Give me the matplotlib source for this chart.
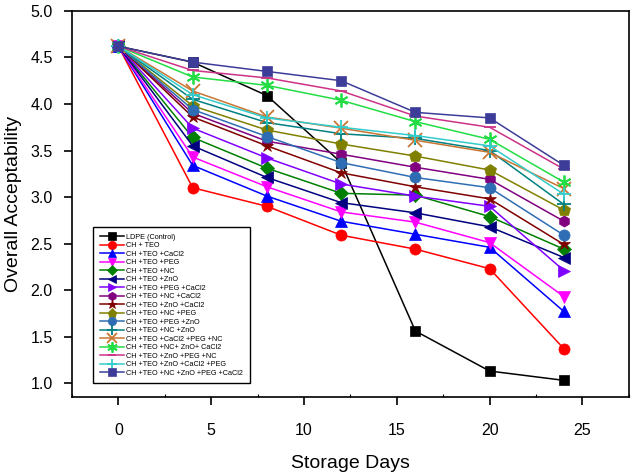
"""
Overall acceptability vs storage days for coated samples
"""
# ---   IMPORTS   --- #
# ------------------- #
import numpy as np
import matplotlib
matplotlib.use('Agg')
import matplotlib.pyplot as plt
from matplotlib.ticker import MultipleLocator, FormatStrFormatter


# ---   DATA   --- #
# ---------------- #
DAYS = [0, 4, 8, 12, 16, 20, 24]

LABELS = [
    'LDPE (Control)',
    'CH + TEO',
    'CH +TEO +CaCl2',
    'CH +TEO +PEG',
    'CH +TEO +NC',
    'CH +TEO +ZnO',
    'CH +TEO +PEG +CaCl2',
    'CH +TEO +NC +CaCl2',
    'CH +TEO +ZnO +CaCl2',
    'CH +TEO +NC +PEG',
    'CH +TEO +PEG +ZnO',
    'CH +TEO +NC +ZnO',
    'CH +TEO +CaCl2 +PEG +NC',
    'CH +TEO +NC+ ZnO+ CaCl2',
    'CH +TEO +ZnO +PEG +NC',
    'CH +TEO +ZnO +CaCl2 +PEG',
    'CH +TEO +NC +ZnO +PEG +CaCl2',
]

LDPE = [4.62, 4.45, 4.09, 3.37, 1.56, 1.13, 1.03]
TEO = [4.62, 3.10, 2.90, 2.59, 2.44, 2.23, 1.37]
TEO_CACL2 = [4.62, 3.34, 3.01, 2.74, 2.60, 2.46, 1.77]
TEO_PEG = [4.62, 3.43, 3.11, 2.84, 2.73, 2.51, 1.93]
TEO_NC = [4.62, 3.64, 3.31, 3.04, 3.02, 2.79, 2.44]
TEO_ZNO = [4.62, 3.55, 3.21, 2.94, 2.83, 2.68, 2.35]
TEO_PEG_CACL2 = [4.62, 3.74, 3.42, 3.14, 3.01, 2.90, 2.21]
TEO_NC_CACL2 = [4.62, 3.90, 3.60, 3.46, 3.32, 3.19, 2.74]
TEO_ZNO_CACL2 = [4.62, 3.86, 3.55, 3.26, 3.11, 2.98, 2.49]
TEO_NC_PEG = [4.62, 3.98, 3.72, 3.57, 3.44, 3.29, 2.86]
TEO_PEG_ZNO = [4.62, 3.94, 3.65, 3.37, 3.21, 3.10, 2.59]
TEO_NC_ZNO = [4.62, 4.05, 3.80, 3.68, 3.63, 3.50, 2.92]
TEO_CACL2_PEG_NC = [4.62, 4.14, 3.86, 3.74, 3.61, 3.48, 3.09]
TEO_NC_ZNO_CACL2 = [4.62, 4.29, 4.20, 4.04, 3.81, 3.62, 3.16]
TEO_ZNO_PEG_NC = [4.62, 4.36, 4.28, 4.14, 3.87, 3.75, 3.30]
TEO_ZNO_CACL2_PEG = [4.62, 4.10, 3.85, 3.75, 3.66, 3.55, 3.03]
TEO_ALL = [4.62, 4.45, 4.35, 4.25, 3.91, 3.85, 3.34]

SERIES = [
    LDPE, TEO, TEO_CACL2, TEO_PEG, TEO_NC, TEO_ZNO, TEO_PEG_CACL2,
    TEO_NC_CACL2, TEO_ZNO_CACL2, TEO_NC_PEG, TEO_PEG_ZNO, TEO_NC_ZNO,
    TEO_CACL2_PEG_NC, TEO_NC_ZNO_CACL2, TEO_ZNO_PEG_NC, TEO_ZNO_CACL2_PEG,
    TEO_ALL,
]

# ---   STYLE   --- #
# ----------------- #
COLORS = [
    '#000000', '#FF0000', '#0000FF', '#FF00FF', '#008000', '#000080',
    '#8000FF', '#800080', '#800000', '#808000', '#2E6DB4', '#008080',
    '#C87533', '#22DD44', '#CC3388', '#33CCCC', '#3D3D99',
]
MARKERS = [
    's', 'o', '^', 'v', 'D', '<', '>', 'h', '*', 'p', 'o', '+', 'x',
    (6, 2, 0), '_', '+', 's',
]
SIZES = [7, 8, 8, 8, 7, 8, 8, 8, 9, 9, 8, 10, 10, 10, 8, 10, 7]

plt.rcParams['font.family'] = ['Liberation Sans', 'DejaVu Sans']

# ---   PLOT   --- #
# ---------------- #
fig = plt.figure(figsize=(6.32, 4.75), dpi=100)
ax = fig.add_axes([0.114, 0.164, 0.881, 0.813])

x = np.array(DAYS)
for label, vals, color, marker, ms in zip(LABELS, SERIES, COLORS,
                                          MARKERS, SIZES):
    thin = marker in ('+', 'x', '_') or isinstance(marker, tuple)
    ax.plot(x, vals, color=color, lw=1.1, marker=marker, markersize=ms,
            markeredgewidth=1.3 if thin else 0.5,
            markeredgecolor=color, label=label)

ax.set_xlim(-2.5, 27.5)
ax.set_ylim(0.85, 5.0)
ax.xaxis.set_major_locator(MultipleLocator(5))
ax.xaxis.set_minor_locator(MultipleLocator(2.5))
ax.yaxis.set_major_locator(MultipleLocator(0.5))
ax.yaxis.set_major_formatter(FormatStrFormatter('%.1f'))
ax.tick_params(axis='both', which='major', direction='out', length=6,
               width=1.2, labelsize=11.5)
ax.tick_params(axis='x', which='major', pad=13)
ax.tick_params(axis='y', which='major', pad=8)
ax.tick_params(axis='x', which='minor', direction='in', length=2, width=0.8)
ax.tick_params(top=False, right=False)
for side in ['top', 'bottom', 'left', 'right']:
    ax.spines[side].set_linewidth(1.2)

ax.set_xlabel('Storage Days', fontsize=14, labelpad=12)
ax.set_ylabel('Overall Acceptability', fontsize=14, labelpad=6)

legend = ax.legend(loc='lower left', bbox_to_anchor=(0.038, 0.036),
                   borderaxespad=0, fontsize=5.2, frameon=True,
                   fancybox=False, framealpha=1, edgecolor='black',
                   labelspacing=0.2, handlelength=3.4, handletextpad=0.3,
                   borderpad=0.9, markerscale=0.75)
legend.get_frame().set_linewidth(1.0)

fig.savefig('out.png', dpi=100)
